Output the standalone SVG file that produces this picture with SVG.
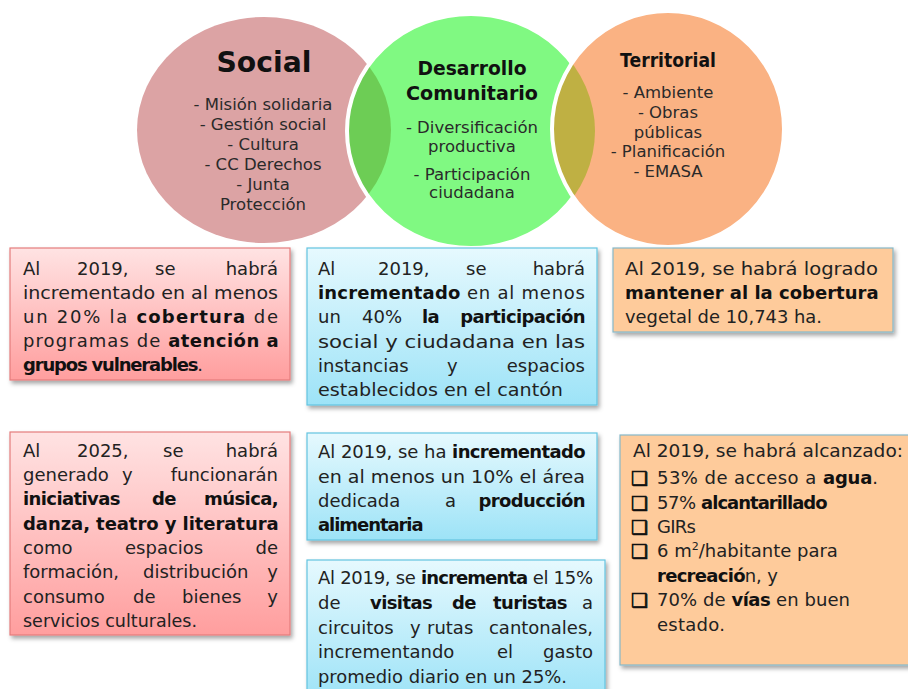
<svg xmlns="http://www.w3.org/2000/svg" width="908" height="689" viewBox="0 0 908 689">
<defs>
<style>
.t{font-family:"DejaVu Sans","Liberation Sans",sans-serif;font-size:18px;fill:#222}
.c{font-family:"DejaVu Sans","Liberation Sans",sans-serif;font-size:16.5px;fill:#2a2a2a;text-anchor:middle}
.h{font-family:"DejaVu Sans","Liberation Sans",sans-serif;font-weight:bold;fill:#111;text-anchor:middle}
.b{font-weight:bold;fill:#111;letter-spacing:-0.6px}
.e{text-anchor:end}
.ck{font-size:19px;fill:#111;font-weight:bold;stroke:#111;stroke-width:0.7}
.pinkbox{fill:url(#gPink);stroke:#e47c7c;stroke-width:1.2}
.bluebox{fill:url(#gBlue);stroke:#63c4e0;stroke-width:1.2}
.orbox{fill:#fecb9b;stroke:#86b8c8;stroke-width:1.2}
</style>
<linearGradient id="gPink" x1="0" y1="0" x2="0" y2="1">
<stop offset="0" stop-color="#ffe3e3"/><stop offset="1" stop-color="#ff9e9e"/>
</linearGradient>
<linearGradient id="gBlue" x1="0" y1="0" x2="0" y2="1">
<stop offset="0" stop-color="#e6f9fe"/><stop offset="1" stop-color="#9de3f7"/>
</linearGradient>
<filter id="sh" x="-10%" y="-10%" width="130%" height="130%">
<feDropShadow dx="2" dy="3" stdDeviation="2" flood-color="#000" flood-opacity="0.35"/>
</filter>
<clipPath id="clipSocial"><ellipse cx="264" cy="130" rx="127" ry="113"/></clipPath>
<clipPath id="clipGreen"><ellipse cx="471" cy="131" rx="124" ry="117"/></clipPath>
</defs>
<rect width="908" height="689" fill="#fff"/>

<g id="circle-social">
<ellipse cx="264" cy="130" rx="127" ry="113" fill="#dca3a4"/>
</g>
<g id="circle-desarrollo">
<ellipse cx="471" cy="131" rx="124" ry="117" fill="#80f982"/>
<ellipse cx="471" cy="131" rx="124" ry="117" fill="#6dcd55" clip-path="url(#clipSocial)"/>
<ellipse cx="471" cy="131" rx="124" ry="117" fill="none" stroke="#fff" stroke-width="4"/>
</g>
<g id="circle-territorial">
<ellipse cx="668" cy="129" rx="116" ry="118" fill="#fab283"/>
<ellipse cx="668" cy="129" rx="116" ry="118" fill="#bfb043" clip-path="url(#clipGreen)"/>
<ellipse cx="668" cy="129" rx="116" ry="118" fill="none" stroke="#fff" stroke-width="4"/>
</g>

<g id="label-social">
<text class="h" x="264" y="72" font-size="29" textLength="95" lengthAdjust="spacingAndGlyphs">Social</text>
<text class="c" x="263" y="110">- Misión solidaria</text>
<text class="c" x="263" y="130">- Gestión social</text>
<text class="c" x="263" y="150">- Cultura</text>
<text class="c" x="263" y="170">- CC Derechos</text>
<text class="c" x="263" y="190">- Junta</text>
<text class="c" x="263" y="210">Protección</text>
</g>
<g id="label-desarrollo">
<text class="h" x="472" y="75" font-size="19" textLength="109" lengthAdjust="spacingAndGlyphs">Desarrollo</text>
<text class="h" x="472" y="100" font-size="19" textLength="132" lengthAdjust="spacingAndGlyphs">Comunitario</text>
<text class="c" x="472" y="133">- Diversificación</text>
<text class="c" x="472" y="152">productiva</text>
<text class="c" x="472" y="180">- Participación</text>
<text class="c" x="472" y="198">ciudadana</text>
</g>
<g id="label-territorial">
<text class="h" x="668" y="67" font-size="19" textLength="96" lengthAdjust="spacingAndGlyphs">Territorial</text>
<text class="c" x="668" y="98">- Ambiente</text>
<text class="c" x="668" y="118">- Obras</text>
<text class="c" x="668" y="138">públicas</text>
<text class="c" x="668" y="157">- Planificación</text>
<text class="c" x="668" y="177">- EMASA</text>
</g>

<g id="box-social-1">
<rect class="pinkbox" x="10" y="248" width="280" height="132" filter="url(#sh)"/>
<text class="t" y="275"><tspan x="23">Al</tspan><tspan x="77">2019,</tspan><tspan x="155">se</tspan><tspan x="278" class="e">habrá</tspan></text>
<text class="t" x="23" y="299" textLength="255" lengthAdjust="spacingAndGlyphs">incrementado en al menos</text>
<text class="t" x="23" y="323" textLength="255">un 20% la <tspan class="b">cobertura</tspan> de</text>
<text class="t" x="23" y="347" textLength="255">programas de <tspan class="b">atención a</tspan></text>
<text class="t" x="23" y="371" textLength="180"><tspan class="b">grupos vulnerables</tspan>.</text>
</g>

<g id="box-desarrollo-1">
<rect class="bluebox" x="307" y="248" width="290" height="157" filter="url(#sh)"/>
<text class="t" y="275"><tspan x="318">Al</tspan><tspan x="378">2019,</tspan><tspan x="466">se</tspan><tspan x="585" class="e">habrá</tspan></text>
<text class="t" x="318" y="299" textLength="267"><tspan class="b">incrementado</tspan> en al menos</text>
<text class="t" y="323"><tspan x="318">un</tspan><tspan x="362">40%</tspan><tspan x="422" class="b">la</tspan><tspan x="585" class="b e">participación</tspan></text>
<text class="t" x="318" y="348" textLength="267" lengthAdjust="spacingAndGlyphs">social y ciudadana en las</text>
<text class="t" y="372"><tspan x="318">instancias</tspan><tspan x="447">y</tspan><tspan x="585" class="e">espacios</tspan></text>
<text class="t" x="318" y="396" textLength="245" lengthAdjust="spacingAndGlyphs">establecidos en el cantón</text>
</g>

<g id="box-territorial-1">
<rect class="orbox" x="613" y="248" width="280" height="84" filter="url(#sh)"/>
<text class="t" x="625" y="275" textLength="253" lengthAdjust="spacingAndGlyphs">Al 2019, se habrá logrado</text>
<text class="t" x="625" y="299" textLength="253"><tspan class="b">mantener al la cobertura</tspan></text>
<text class="t" x="625" y="323" textLength="197" lengthAdjust="spacingAndGlyphs">vegetal de 10,743 ha.</text>
</g>

<g id="box-social-2">
<rect class="pinkbox" x="10" y="432" width="280" height="203" filter="url(#sh)"/>
<text class="t" y="457"><tspan x="23">Al</tspan><tspan x="77">2025,</tspan><tspan x="163">se</tspan><tspan x="278" class="e">habrá</tspan></text>
<text class="t" y="481"><tspan x="23">generado</tspan><tspan x="122">y</tspan><tspan x="278" class="e">funcionarán</tspan></text>
<text class="t" y="505"><tspan x="23" class="b">iniciativas</tspan><tspan x="152" class="b">de</tspan><tspan x="278" class="b e">música,</tspan></text>
<text class="t" x="23" y="530" textLength="255"><tspan class="b">danza, teatro y literatura</tspan></text>
<text class="t" y="554"><tspan x="23">como</tspan><tspan x="125">espacios</tspan><tspan x="278" class="e">de</tspan></text>
<text class="t" y="578"><tspan x="23">formación,</tspan><tspan x="143">distribución</tspan><tspan x="278" class="e">y</tspan></text>
<text class="t" y="603"><tspan x="23">consumo</tspan><tspan x="133">de</tspan><tspan x="182">bienes</tspan><tspan x="278" class="e">y</tspan></text>
<text class="t" x="23" y="627" textLength="174" lengthAdjust="spacingAndGlyphs">servicios culturales.</text>
</g>

<g id="box-desarrollo-2">
<rect class="bluebox" x="307" y="433" width="290" height="107" filter="url(#sh)"/>
<text class="t" x="318" y="458" textLength="267">Al 2019, se ha <tspan class="b">incrementado</tspan></text>
<text class="t" x="318" y="483" textLength="267" lengthAdjust="spacingAndGlyphs">en al menos un 10% el área</text>
<text class="t" y="507"><tspan x="318">dedicada</tspan><tspan x="445">a</tspan><tspan x="585" class="b e">producción</tspan></text>
<text class="t" x="318" y="531" textLength="105"><tspan class="b">alimentaria</tspan></text>
</g>

<g id="box-desarrollo-3">
<rect class="bluebox" x="307" y="560" width="298" height="140" filter="url(#sh)"/>
<text class="t" x="318" y="584" textLength="275">Al 2019, se <tspan class="b">incrementa</tspan> el 15%</text>
<text class="t" y="609"><tspan x="318">de</tspan><tspan x="370" class="b">visitas</tspan><tspan x="452" class="b">de</tspan><tspan x="493" class="b">turistas</tspan><tspan x="593" class="e">a</tspan></text>
<text class="t" y="634"><tspan x="318">circuitos</tspan><tspan x="410">y</tspan><tspan x="427">rutas</tspan><tspan x="593" class="e">cantonales,</tspan></text>
<text class="t" y="658"><tspan x="318">incrementando</tspan><tspan x="497">el</tspan><tspan x="593" class="e">gasto</tspan></text>
<text class="t" x="318" y="683" textLength="249" lengthAdjust="spacingAndGlyphs">promedio diario en un 25%.</text>
</g>

<g id="box-territorial-2">
<rect class="orbox" x="620" y="435" width="300" height="230" filter="url(#sh)"/>
<text class="t" x="633" y="457" textLength="270" lengthAdjust="spacingAndGlyphs">Al 2019, se habrá alcanzado:</text>
<text class="t ck" x="631" y="485">❑</text>
<text class="t" x="657" y="484" textLength="221">53% de acceso a <tspan class="b">agua</tspan>.</text>
<text class="t ck" x="631" y="510">❑</text>
<text class="t" x="657" y="509" textLength="170">57% <tspan class="b">alcantarillado</tspan></text>
<text class="t ck" x="631" y="534">❑</text>
<text class="t" x="657" y="533" textLength="39">GIRs</text>
<text class="t ck" x="631" y="558">❑</text>
<text class="t" x="657" y="557">6 m<tspan font-size="11" dy="-7">2</tspan><tspan dy="7">/habitante para</tspan></text>
<text class="t" x="657" y="582" textLength="121"><tspan class="b">recreació</tspan>n, y</text>
<text class="t ck" x="631" y="607">❑</text>
<text class="t" x="657" y="606" textLength="193">70% de <tspan class="b">vías</tspan> en buen</text>
<text class="t" x="657" y="631" textLength="68">estado.</text>
</g>
</svg>
